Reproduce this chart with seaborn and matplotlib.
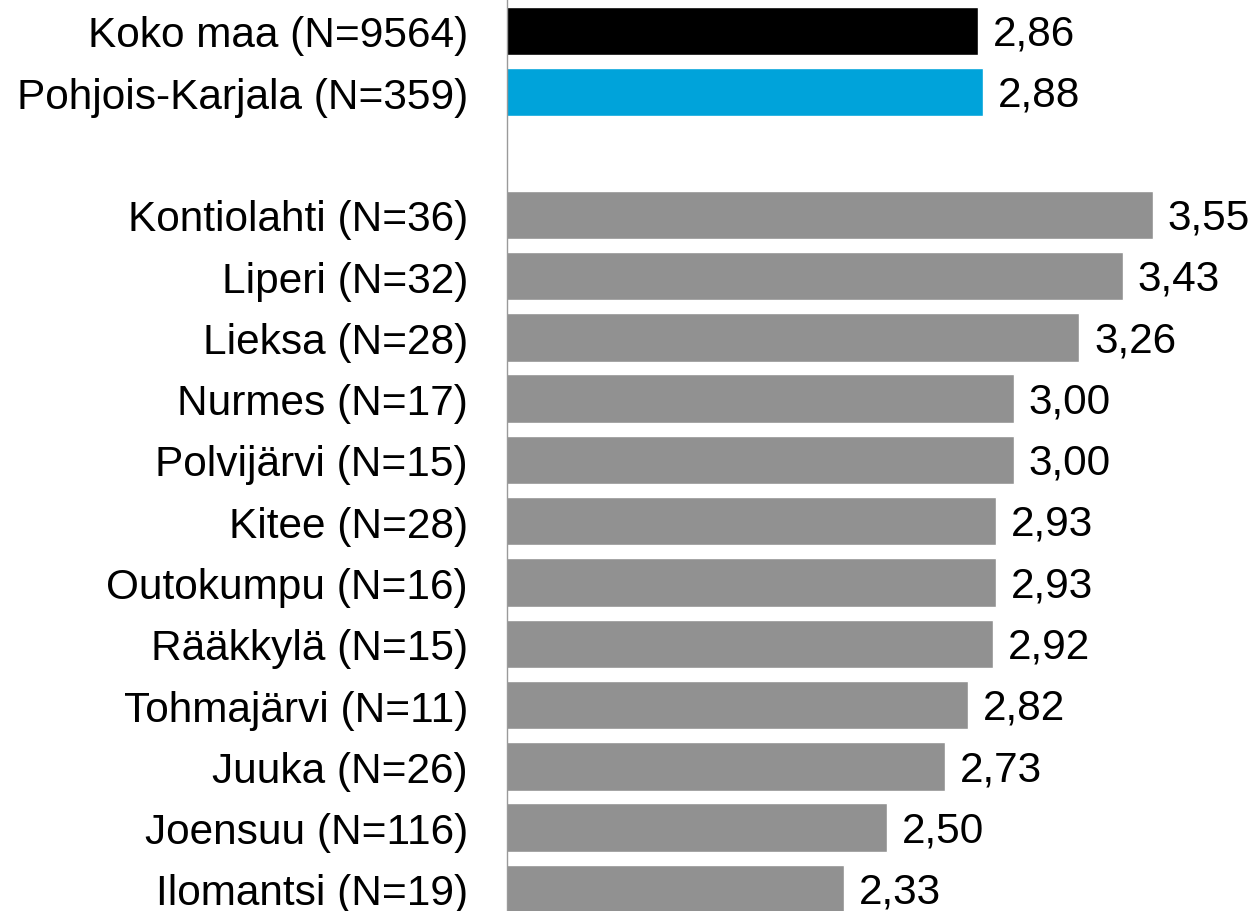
import matplotlib
matplotlib.use("Agg")
import matplotlib.pyplot as plt
import seaborn as sns
import pandas as pd

labels = ["Koko maa (N=9564)", "Pohjois-Karjala (N=359)", " ",
          "Kontiolahti (N=36)", "Liperi (N=32)", "Lieksa (N=28)",
          "Nurmes (N=17)", "Polvijärvi (N=15)", "Kitee (N=28)",
          "Outokumpu (N=16)", "Rääkkylä (N=15)", "Tohmajärvi (N=11)",
          "Juuka (N=26)", "Joensuu (N=116)", "Ilomantsi (N=19)"]
values = [2.86, 2.88, None, 3.55, 3.43, 3.26, 3.00, 3.00, 2.93,
          2.93, 2.92, 2.82, 2.73, 2.50, 2.33]
colors = ["#000000", "#00A3DA", "#FFFFFF"] + ["#919191"] * 12

df = pd.DataFrame({"label": labels, "value": values})
df_plot = df.dropna()

sns.set_style("white")
plt.rcParams["font.family"] = ["Liberation Sans", "DejaVu Sans"]

fig = plt.figure(figsize=(12.58, 9.12), dpi=100)
ax = fig.add_axes([507 / 1258, 0, 751 / 1258, 1])

pal = {l: c for l, c in zip(labels, colors)}
sns.barplot(data=df_plot, x="value", y="label", order=labels, hue="label",
            palette=pal, legend=False, width=0.79, saturation=1,
            orient="h", ax=ax)

for i, (l, v) in enumerate(zip(labels, values)):
    if v is None:
        continue
    ax.annotate(f"{v:.2f}".replace(".", ","), xy=(v, i), xytext=(10.5, -2),
                textcoords="offset points", va="center", ha="left",
                fontsize=30.5, color="black")

ax.set_xlim(1, 1 + 751 / 253.3)
ax.set_ylim(14.36, -0.52)
ax.set_xlabel("")
ax.set_ylabel("")
ax.set_xticks([])
ax.tick_params(axis="y", length=0, pad=28, labelsize=30.5, labelcolor="black")
for s in ["top", "right", "bottom"]:
    ax.spines[s].set_visible(False)
ax.spines["left"].set_color("#9a9a9a")
ax.spines["left"].set_linewidth(1)

fig.savefig("out.png", dpi=100)
